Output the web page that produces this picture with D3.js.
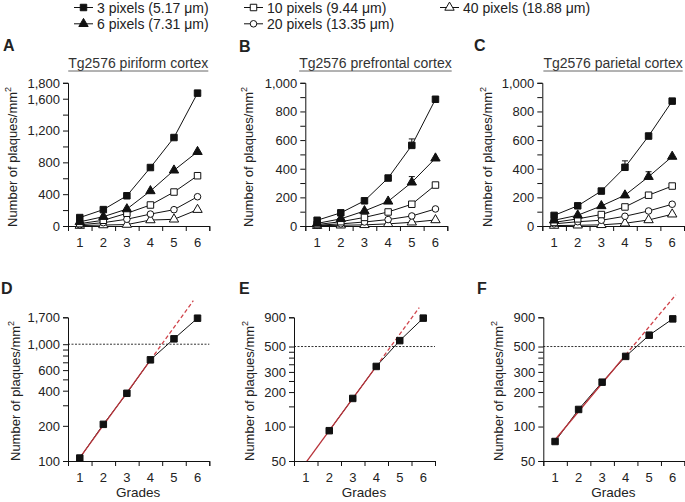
<!DOCTYPE html>
<html><head><meta charset="utf-8">
<script src="https://cdn.jsdelivr.net/npm/d3@7"></script>
<style>
body{margin:0;background:#fff}
svg{display:block;font-family:"Liberation Sans",Arial,Helvetica,sans-serif}
</style></head><body>
<svg id="c" width="685" height="502"></svg>
<script>
// ---------------- data ----------------
const grades = [1, 2, 3, 4, 5, 6];
const gradeBounds = [0.5, 1.5, 2.5, 3.5, 4.5, 5.5, 6.5];
const seriesLabels = ["3 pixels (5.17 μm)", "6 pixels (7.31 μm)", "10 pixels (9.44 μm)", "20 pixels (13.35 μm)", "40 pixels (18.88 μm)"];
const seriesSymbols = ["square", "triangle", "square", "circle", "triangle"];
const seriesFilled = [true, true, false, false, false];

const piriform3px  = [106, 206, 380, 735, 1112, 1670];
const piriform6px  = [52, 117, 213, 440, 700, 933];
const piriform10px = [30, 72, 160, 264, 427, 632];
const piriform20px = [15, 42, 85, 150, 205, 368];
const piriform40px = [5, 12, 18, 75, 84, 205];

const prefrontal3px  = [40, 92, 176, 335, 563, 885];
const prefrontal6px  = [18, 50, 105, 172, 305, 473];
const prefrontal10px = [10, 30, 60, 98, 152, 286];
const prefrontal20px = [5, 15, 28, 45, 70, 119];
const prefrontal40px = [2, 5, 8, 15, 26, 42];
const prefrontalErr3px = [0, 0, 0, 0, 45, 0];
const prefrontalErr6px = [0, 0, 0, 0, 40, 0];

const parietal3px  = [74, 141, 244, 410, 628, 872];
const parietal6px  = [40, 75, 140, 215, 344, 485];
const parietal10px = [25, 50, 80, 133, 215, 279];
const parietal20px = [15, 30, 40, 68, 105, 152];
const parietal40px = [3, 5, 8, 19, 42, 82];
const parietalErr3px = [0, 0, 0, 45, 20, 0];
const parietalErr6px = [0, 0, 0, 0, 35, 0];

const noErr = [0, 0, 0, 0, 0, 0];

const titles = ["Tg2576 piriform cortex", "Tg2576 prefrontal cortex", "Tg2576 parietal cortex"];
const panelLetters = ["A", "B", "C", "D", "E", "F"];

const piriformTicks = d3.range(0, 1801, 200);
const piriformTickLabels = [0, 400, 800, 1200, 1600, 1800];
const cortexTicks = d3.range(0, 1001, 100);
const cortexTickLabels = [0, 200, 400, 600, 800, 1000];

const logTicksD = [100, 200, 300, 400, 500, 600, 700, 800, 900, 1000, 1700];
const logTickLabelsD = [100, 200, 400, 600, 1000, 1700];
const logTicksEF = [50, 100, 150, 200, 250, 300, 350, 400, 450, 500, 900];
const logTickLabelsEF = [50, 100, 200, 300, 500, 900];
const thresholds = [1000, 500, 500];

// ---------------- layout ----------------
const svg = d3.select("#c");
const ink = "#222";
const fmt = d3.format(",");

const topPanels = [
  {x0: 68, x1: 209.3, labelX: 17, domain: [0, 1800], ticks: piriformTicks, labels: piriformTickLabels, title: titles[0], titleX: 208.3,
   series: [piriform3px, piriform6px, piriform10px, piriform20px, piriform40px], errs: [noErr, noErr, noErr, noErr, noErr]},
  {x0: 305.3, x1: 447.3, labelX: 253, domain: [0, 1000], ticks: cortexTicks, labels: cortexTickLabels, title: titles[1], titleX: 451.7,
   series: [prefrontal3px, prefrontal6px, prefrontal10px, prefrontal20px, prefrontal40px], errs: [prefrontalErr3px, prefrontalErr6px, noErr, noErr, noErr]},
  {x0: 542.3, x1: 684, labelX: 492, domain: [0, 1000], ticks: cortexTicks, labels: cortexTickLabels, title: titles[2], titleX: 682.7,
   series: [parietal3px, parietal6px, parietal10px, parietal20px, parietal40px], errs: [parietalErr3px, parietalErr6px, noErr, noErr, noErr]}
];
const topY = [226, 82.8];

const botPanels = [
  {x0: 68, x1: 209.3, labelX: 20, domain: [100, 1700], ticks: logTicksD, labels: logTickLabelsD, data: piriform3px, fitGrades: [1, 2, 3, 4], fitStart: 0.95, fitEnd: 5.82, thr: thresholds[0]},
  {x0: 294, x1: 435, labelX: 254, domain: [50, 900], ticks: logTicksEF, labels: logTickLabelsEF, data: prefrontal3px, fitGrades: [2, 3, 4], fitStart: 1.0, fitEnd: 5.83, thr: thresholds[1]},
  {x0: 543.3, x1: 684.5, labelX: 503, domain: [50, 900], ticks: logTicksEF, labels: logTickLabelsEF, data: parietal3px, fitGrades: [1, 2, 3, 4], fitStart: 1.0, fitEnd: 6.13, thr: thresholds[2]}
];
const botY = [461, 317.3];

const letterPos = [[3, 51], [239, 51.5], [474, 51], [1, 293.5], [239, 294], [477, 294]];

// ---------------- helpers ----------------
function symbolPath(kind) {
  if (kind === "square") return d3.symbol(d3.symbolSquare, 42)();
  if (kind === "triangle") return d3.symbol(d3.symbolTriangle, 38)();
  return d3.symbol(d3.symbolCircle, 34)();
}
function drawMarker(g, x, y, i) {
  g.append("path").attr("d", symbolPath(seriesSymbols[i]))
    .attr("transform", `translate(${x},${y})`)
    .attr("fill", seriesFilled[i] ? "#111" : "#fff")
    .attr("stroke", "#111").attr("stroke-width", 1);
}
function styleAxis(g) {
  g.select(".domain").attr("stroke", "#111").attr("stroke-width", 1);
  g.selectAll(".tick line").attr("stroke", "#111");
  g.selectAll(".tick text").attr("font-size", 13).attr("fill", ink).attr("font-family", "Liberation Sans, Arial, sans-serif");
}
function xAxis(g, x, yBase) {
  const ax = g.append("g").attr("transform", `translate(0,${yBase})`)
    .call(d3.axisBottom(x).tickValues(gradeBounds).tickSize(5).tickFormat(""));
  styleAxis(ax);
  g.selectAll(null).data(grades).enter().append("text")
    .attr("x", d => x(d)).attr("y", yBase + 21.3).attr("text-anchor", "middle")
    .attr("font-size", 13).attr("fill", ink).text(d => d);
}
function yLabel(g, x, yStart) {
  const t = g.append("text").attr("transform", `translate(${x},${yStart}) rotate(-90)`)
    .attr("font-size", 13).attr("fill", ink);
  t.append("tspan").text("Number of plaques/mm");
  t.append("tspan").attr("dy", -6).attr("font-size", 9).text("2");
}

// ---------------- legend ----------------
const legendCols = [74, 244, 440];
const legendRows = [7.5, 23.8];
const legendPlace = [[0, 0], [0, 1], [1, 0], [1, 1], [2, 0]];
seriesLabels.forEach((lab, i) => {
  const lx = legendCols[legendPlace[i][0]], ly = legendRows[legendPlace[i][1]];
  const g = svg.append("g");
  g.append("line").attr("x1", lx).attr("x2", lx + 19).attr("y1", ly).attr("y2", ly).attr("stroke", "#111");
  drawMarker(g, lx + 9.5, ly, i);
  g.append("text").attr("x", lx + 23).attr("y", ly).attr("dy", "0.36em")
    .attr("font-size", 14).attr("fill", ink).text(lab);
});

// ---------------- panel letters ----------------
panelLetters.forEach((L, i) => {
  svg.append("text").attr("x", letterPos[i][0]).attr("y", letterPos[i][1])
    .attr("font-size", 16).attr("font-weight", "bold").attr("fill", ink).text(L);
});

// ---------------- top panels ----------------
topPanels.forEach(p => {
  const g = svg.append("g");
  const x = d3.scaleLinear().domain([0.5, 6.5]).range([p.x0, p.x1]);
  const y = d3.scaleLinear().domain(p.domain).range(topY);
  // title
  const tt = g.append("text").attr("x", p.titleX).attr("y", 68.3).attr("text-anchor", "end")
    .attr("font-size", 14).attr("fill", "#333").text(p.title);
  const tw = tt.node().getComputedTextLength();
  g.append("line").attr("x1", p.titleX - tw).attr("x2", p.titleX).attr("y1", 71).attr("y2", 71)
    .attr("stroke", "#555").attr("stroke-width", 0.9);
  // axes
  const ay = g.append("g").attr("transform", `translate(${p.x0},0)`)
    .call(d3.axisLeft(y).tickValues(p.ticks).tickSize(5).tickPadding(3)
      .tickFormat(v => p.labels.includes(v) ? fmt(v) : ""));
  styleAxis(ay);
  ay.selectAll(".tick text").attr("dy", "0.34em");
  xAxis(g, x, topY[0]);
  yLabel(g, p.labelX, 227);
  // series (draw from last to first so filled markers sit on top)
  for (let i = p.series.length - 1; i >= 0; i--) {
    const vals = p.series[i], errs = p.errs[i];
    const pts = grades.map((gr, k) => [x(gr), y(vals[k])]);
    g.append("path").attr("d", d3.line()(pts)).attr("fill", "none").attr("stroke", "#111").attr("stroke-width", 1);
    grades.forEach((gr, k) => {
      if (errs[k] > 0) {
        const yt = y(vals[k] + errs[k]);
        g.append("line").attr("x1", x(gr)).attr("x2", x(gr)).attr("y1", y(vals[k])).attr("y2", yt).attr("stroke", "#111");
        g.append("line").attr("x1", x(gr) - 3).attr("x2", x(gr) + 3).attr("y1", yt).attr("y2", yt).attr("stroke", "#111");
      }
    });
    grades.forEach((gr, k) => drawMarker(g, x(gr), y(vals[k]), i));
  }
});

// ---------------- bottom panels ----------------
botPanels.forEach((p, pi) => {
  const g = svg.append("g");
  const x = d3.scaleLinear().domain([0.5, 6.5]).range([p.x0, p.x1]);
  const y = d3.scaleLog().domain(p.domain).range(botY);
  const clipId = "clip" + pi;
  svg.append("clipPath").attr("id", clipId).append("rect")
    .attr("x", p.x0).attr("y", 280).attr("width", p.x1 - p.x0 + 5).attr("height", botY[0] - 280);
  // threshold dotted line
  g.append("line").attr("x1", p.x0).attr("x2", p.x1).attr("y1", y(p.thr)).attr("y2", y(p.thr))
    .attr("stroke", "#333").attr("stroke-width", 1).attr("stroke-dasharray", "2,1.5");
  // axes
  const ay = g.append("g").attr("transform", `translate(${p.x0},0)`)
    .call(d3.axisLeft(y).tickValues(p.ticks).tickSize(5).tickPadding(3)
      .tickFormat(v => p.labels.includes(v) ? fmt(v) : ""));
  styleAxis(ay);
  ay.selectAll(".tick text").attr("dy", "0.34em");
  xAxis(g, x, botY[0]);
  yLabel(g, p.labelX, 461);
  g.append("text").attr("x", (p.x0 + p.x1) / 2 - 0.5).attr("y", 497).attr("text-anchor", "middle")
    .attr("font-size", 13.5).attr("fill", ink).text("Grades");
  // data line (only points within domain)
  const pts = grades.map((gr, k) => [gr, p.data[k]]).filter(d => d[1] >= p.domain[0]);
  g.append("path").attr("d", d3.line().x(d => x(d[0])).y(d => y(d[1]))(pts))
    .attr("fill", "none").attr("stroke", "#111").attr("stroke-width", 1);
  // regression on log10 values
  const fx = p.fitGrades, fy = p.fitGrades.map(gr => Math.log10(p.data[gr - 1]));
  const mx = d3.mean(fx), my = d3.mean(fy);
  const slope = d3.sum(fx.map((v, k) => (v - mx) * (fy[k] - my))) / d3.sum(fx.map(v => (v - mx) ** 2));
  const fit = gr => Math.pow(10, my + slope * (gr - mx));
  const lastFit = d3.max(fx);
  const fg = g.append("g").attr("clip-path", `url(#${clipId})`);
  fg.append("line").attr("x1", x(p.fitStart)).attr("y1", y(fit(p.fitStart)))
    .attr("x2", x(lastFit)).attr("y2", y(fit(lastFit)))
    .attr("stroke", "#b8333a").attr("stroke-width", 1.3);
  fg.append("line").attr("x1", x(lastFit)).attr("y1", y(fit(lastFit)))
    .attr("x2", x(p.fitEnd)).attr("y2", y(fit(p.fitEnd)))
    .attr("stroke", "#d0454c").attr("stroke-width", 1.3).attr("stroke-dasharray", "4,2.5");
  pts.forEach(d => drawMarker(g, x(d[0]), y(d[1]), 0));
});
</script>
</body></html>
